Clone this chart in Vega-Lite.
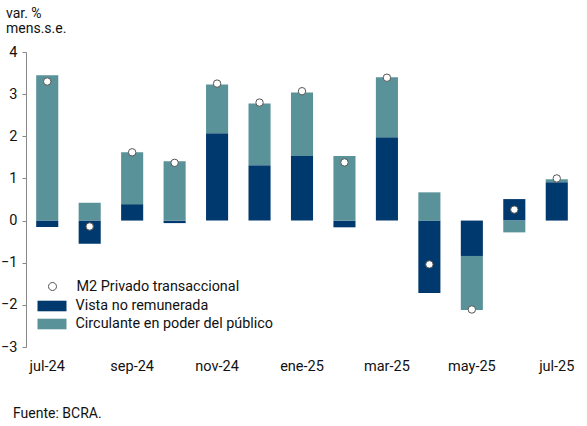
{
  "$schema": "https://vega.github.io/schema/vega-lite/v6.json",
  "width": 552,
  "height": 295,
  "autosize": {"type": "none"},
  "padding": {"left": 26, "top": 52, "right": 9, "bottom": 79},
  "background": "white",
  "config": {
    "font": "Roboto",
    "view": {"stroke": null},
    "axis": {"grid": false, "labelFont": "Roboto", "titleFont": "Roboto", "labelColor": "#111", "titleColor": "#111"},
    "legend": {"labelFont": "Roboto", "labelColor": "#111"}
  },
  "data": {
    "values": [
      {"mes": "jul-24", "serie": "Vista no remunerada", "valor": -0.15},
      {"mes": "jul-24", "serie": "Circulante en poder del público", "valor": 3.45},
      {"mes": "jul-24", "serie": "M2 Privado transaccional", "valor": 3.30},
      {"mes": "ago-24", "serie": "Vista no remunerada", "valor": -0.55},
      {"mes": "ago-24", "serie": "Circulante en poder del público", "valor": 0.42},
      {"mes": "ago-24", "serie": "M2 Privado transaccional", "valor": -0.14},
      {"mes": "sep-24", "serie": "Vista no remunerada", "valor": 0.39},
      {"mes": "sep-24", "serie": "Circulante en poder del público", "valor": 1.23},
      {"mes": "sep-24", "serie": "M2 Privado transaccional", "valor": 1.62},
      {"mes": "oct-24", "serie": "Vista no remunerada", "valor": -0.06},
      {"mes": "oct-24", "serie": "Circulante en poder del público", "valor": 1.41},
      {"mes": "oct-24", "serie": "M2 Privado transaccional", "valor": 1.37},
      {"mes": "nov-24", "serie": "Vista no remunerada", "valor": 2.07},
      {"mes": "nov-24", "serie": "Circulante en poder del público", "valor": 1.16},
      {"mes": "nov-24", "serie": "M2 Privado transaccional", "valor": 3.25},
      {"mes": "dic-24", "serie": "Vista no remunerada", "valor": 1.31},
      {"mes": "dic-24", "serie": "Circulante en poder del público", "valor": 1.47},
      {"mes": "dic-24", "serie": "M2 Privado transaccional", "valor": 2.80},
      {"mes": "ene-25", "serie": "Vista no remunerada", "valor": 1.53},
      {"mes": "ene-25", "serie": "Circulante en poder del público", "valor": 1.51},
      {"mes": "ene-25", "serie": "M2 Privado transaccional", "valor": 3.07},
      {"mes": "feb-25", "serie": "Vista no remunerada", "valor": -0.16},
      {"mes": "feb-25", "serie": "Circulante en poder del público", "valor": 1.53},
      {"mes": "feb-25", "serie": "M2 Privado transaccional", "valor": 1.38},
      {"mes": "mar-25", "serie": "Vista no remunerada", "valor": 1.98},
      {"mes": "mar-25", "serie": "Circulante en poder del público", "valor": 1.42},
      {"mes": "mar-25", "serie": "M2 Privado transaccional", "valor": 3.39},
      {"mes": "abr-25", "serie": "Vista no remunerada", "valor": -1.72},
      {"mes": "abr-25", "serie": "Circulante en poder del público", "valor": 0.67},
      {"mes": "abr-25", "serie": "M2 Privado transaccional", "valor": -1.04},
      {"mes": "may-25", "serie": "Vista no remunerada", "valor": -0.84},
      {"mes": "may-25", "serie": "Circulante en poder del público", "valor": -1.28},
      {"mes": "may-25", "serie": "M2 Privado transaccional", "valor": -2.11},
      {"mes": "jun-25", "serie": "Vista no remunerada", "valor": 0.51},
      {"mes": "jun-25", "serie": "Circulante en poder del público", "valor": -0.28},
      {"mes": "jun-25", "serie": "M2 Privado transaccional", "valor": 0.26},
      {"mes": "jul-25", "serie": "Vista no remunerada", "valor": 0.91},
      {"mes": "jul-25", "serie": "Circulante en poder del público", "valor": 0.07},
      {"mes": "jul-25", "serie": "M2 Privado transaccional", "valor": 1.00}
    ]
  },
  "encoding": {
    "x": {
      "field": "mes",
      "type": "ordinal",
      "sort": null,
      "scale": {"paddingInner": 0.48, "paddingOuter": 0.24},
      "axis": {
        "values": ["jul-24", "sep-24", "nov-24", "ene-25", "mar-25", "may-25", "jul-25"],
        "labelAngle": 0,
        "domain": false,
        "ticks": false,
        "tickSize": 0,
        "labelPadding": 12,
        "labelFontSize": 14.5,
        "title": "Fuente: BCRA.",
        "titleFontSize": 14,
        "titleFontWeight": "normal",
        "titleX": -13.5,
        "titleY": 70.5,
        "titleAlign": "left",
        "titleBaseline": "alphabetic"
      }
    }
  },
  "layer": [
    {
      "transform": [{"filter": "datum.serie !== 'M2 Privado transaccional'"}],
      "mark": {"type": "bar"},
      "encoding": {
        "y": {
          "field": "valor",
          "type": "quantitative",
          "stack": "zero",
          "scale": {"domain": [-3, 4], "nice": false, "zero": false},
          "axis": {
            "values": [-3, -2, -1, 0, 1, 2, 3, 4],
            "domainColor": "#888",
            "tickColor": "#888",
            "tickSize": 4,
            "labelPadding": 5,
            "labelFontSize": 14.5,
            "title": ["var. %", "mens.s.e."],
            "titleFontSize": 14,
            "titleFontWeight": "normal",
            "titleAngle": 0,
            "titleX": -20.5,
            "titleY": -35,
            "titleAlign": "left",
            "titleBaseline": "alphabetic",
            "titleLineHeight": 15
          }
        },
        "color": {
          "field": "serie",
          "type": "nominal",
          "scale": {
            "domain": ["Vista no remunerada", "Circulante en poder del público"],
            "range": ["#00396d", "#5a9299"]
          },
          "legend": {
            "title": null,
            "orient": "none",
            "legendX": 16,
            "legendY": 244,
            "padding": 0,
            "rowPadding": 1,
            "symbolType": "M-1.45,-0.53H1.45V0.53H-1.45Z",
            "symbolSize": 400,
            "symbolStrokeWidth": 0,
            "labelOffset": 13.5,
            "labelFontSize": 14.4,
            "labelLimit": 400
          }
        },
        "order": {"field": "serie", "sort": "descending"}
      }
    },
    {
      "mark": {"type": "rule", "color": "#808080", "strokeWidth": 1},
      "encoding": {"y": {"datum": 0}}
    },
    {
      "transform": [{"filter": "datum.serie === 'M2 Privado transaccional'"}],
      "mark": {"type": "point", "shape": "circle", "filled": true, "stroke": "#555", "strokeWidth": 1, "size": 55, "opacity": 1},
      "encoding": {
        "y": {"field": "valor", "type": "quantitative"},
        "fill": {
          "field": "serie",
          "type": "nominal",
          "scale": {"domain": ["M2 Privado transaccional"], "range": ["white"]},
          "legend": {
            "title": null,
            "orient": "none",
            "legendX": 16,
            "legendY": 224,
            "padding": 0,
            "symbolType": "M0.4,0A0.4,0.4,0,1,1,-0.4,0A0.4,0.4,0,1,1,0.4,0Z",
            "symbolSize": 400,
            "symbolStrokeColor": "#555",
            "symbolStrokeWidth": 1,
            "labelOffset": 13.5,
            "labelFontSize": 14.4,
            "labelLimit": 400,
            "encode": {
              "symbols": {
                "update": {
                  "stroke": {"value": "#555"},
                  "strokeWidth": {"value": 1},
                  "opacity": {"value": 1}
                }
              }
            }
          }
        }
      }
    }
  ]
}
